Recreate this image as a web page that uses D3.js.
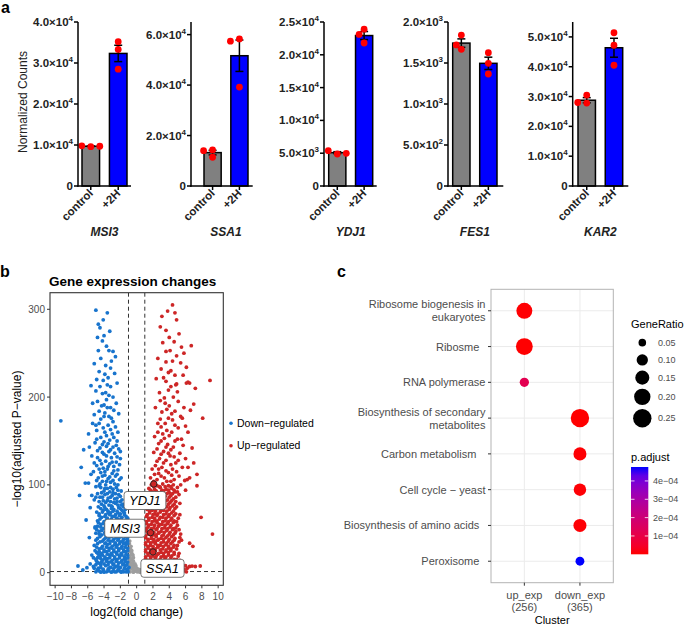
<!DOCTYPE html>
<html><head><meta charset="utf-8">
<script src="https://cdn.jsdelivr.net/npm/d3@7"></script>
<style>
body{margin:0;background:#fff;}
svg{font-family:"Liberation Sans",Arial,Helvetica,sans-serif;}
</style></head><body>
<svg id="c" width="685" height="626"></svg>
<script>
// ================= DATA =================
// Panel a
const genes = ["MSI3","SSA1","YDJ1","FES1","KAR2"];
const conditions = ["control","+2H"];
const controlReps = [[9600,9800,9700],[14300,14000,11400],[4880,5380,4980],[1841,1667,1720],[30500,27800,28000]];
const h2Reps = [[35200,33300,28500],[58300,57400,39200],[23900,23100,21800],[1626,1496,1366],[51400,47200,40500]];
const yMaxA = [40000,65000,25000,2000,55000];
const yTicksA = [[0,1e4,2e4,3e4,4e4],[0,2e4,4e4,6e4],[0,5e3,1e4,1.5e4,2e4,2.5e4],[0,500,1000,1500,2000],[0,1e4,2e4,3e4,4e4,5e4]];

// Panel b (log2 fold change, -log10 adjusted p)
const downPts = parsePts(`-5.0,299 -4.7,283 -4.5,279 -4.0,270 -4.2,264 -4.7,253 -3.4,253 -2.9,252 -3.2,233 -3.9,226 -5.6,213 -3.2,212 -4.5,212 -4.1,219 -3.8,205 -3.4,202 -4.8,195 -4.3,190 -3.6,188 -2.8,185 -5.2,180 -4.0,178 -3.1,176 -9.3,173 -4.6,170 -3.5,168 -2.6,166 -4.9,162 -3.9,160 -3.0,158 -5.9,158 -5.4,170 -4.4,154 -3.3,151 -2.4,150
-5.1,148 -4.2,146 -3.7,144 -2.9,143 -2.2,141 -4.8,139 -3.4,138 -2.7,136 -4.0,135 -5.5,133 -3.1,131 -2.0,130 -4.5,128 -3.8,127 -2.5,126 -3.3,124 -4.9,122 -2.8,121 -4.1,119 -3.6,118 -2.3,117 -5.3,115 -4.4,114 -3.0,113 -3.9,111 -2.6,110 -4.7,108 -3.5,107 -2.1,106 -6.3,102 -5.9,102 -4.2,104 -3.2,103 -2.7,101 -3.8,100
-3.6,296 -4.1,288 -3.3,275 -4.8,268 -3.7,258 -2.6,246 -4.4,244 -3.1,241 -5.2,238 -3.8,236 -4.6,229 -2.7,227 -3.5,222 -4.9,220 -2.4,216 -3.6,214 -5.0,207 -4.2,204 -2.9,200 -3.7,197 -5.4,193 -2.5,193 -4.0,191 -3.2,188 -4.6,184 -2.2,181 -3.9,182 -3.4,178 -4.4,175 -2.9,172 -5.0,168 -4.1,165 -3.2,163 -2.3,160 -3.7,156 -4.9,152 -2.8,154 -4.0,149 -3.5,147 -2.5,145 -5.8,143 -4.5,142 -3.2,140 -2.0,138 -4.2,137 -3.7,133 -2.4,132 -4.8,131 -5.2,125 -3.0,126 -4.3,124 -2.1,123 -3.5,121 -4.6,118 -2.8,116 -3.9,115 -5.6,112 -2.4,112 -4.2,110 -3.3,109 -4.9,105 -1.9,108 -3.7,104 -2.9,105 -4.5,101 -2.3,100 -6.8,120 -6.5,140 -7.0,88
-5.0,98 -4.4,97 -3.6,96 -2.9,95 -2.3,94 -4.0,93 -3.3,92 -4.8,90 -2.6,90 -3.9,89 -3.0,88 -2.0,87 -4.5,86 -3.5,85 -2.7,84 -5.2,83 -4.1,82 -3.2,81 -2.4,81 -3.8,80
-4.6,99 -3.9,96 -3.2,97 -2.5,97 -1.9,93 -4.3,91 -3.6,90 -2.9,91 -2.2,89 -5.0,86 -4.2,86 -3.2,86 -2.4,85 -1.8,83 -4.6,81 -3.6,82 -2.8,80 -2.0,81
-4.3,78 -3.4,77 -2.6,79 -1.9,77 -4.7,75 -3.9,74 -3.0,75 -2.2,74 -1.6,75 -4.1,71 -3.5,70 -2.8,72 -2.4,70 -1.8,71
-4.6,67 -3.8,66 -3.2,68 -2.6,66 -2.0,67 -1.5,68 -4.3,63 -3.6,62 -3.0,64 -2.4,62 -1.8,63 -1.3,64
-4.8,59 -4.0,58 -3.4,59 -2.8,58 -2.2,60 -1.6,58 -1.2,59 -4.4,55 -3.7,54 -3.1,56 -2.5,54 -1.9,55 -1.4,56 -1.1,54
-5.1,51 -4.1,50 -3.5,52 -2.9,50 -2.3,51 -1.7,50 -1.2,52 -4.6,47 -3.9,46 -3.3,48 -2.7,46 -2.1,47 -1.5,46 -1.1,48
-4.3,43 -3.6,42 -3.0,44 -2.4,42 -1.8,43 -1.3,42 -4.8,39 -4.0,38 -3.4,40 -2.8,38 -2.2,39 -1.6,38 -1.1,40
-4.5,35 -3.8,34 -3.2,36 -2.6,34 -2.0,35 -1.4,34 -1.1,36 -5.2,31 -4.2,30 -3.6,32 -3.0,30 -2.4,31 -1.8,30 -1.3,32
-4.6,27 -4.0,26 -3.4,28 -2.8,26 -2.2,27 -1.6,26 -1.1,28 -4.9,23 -4.3,22 -3.7,24 -3.1,22 -2.5,23 -1.9,22 -1.3,24
-4.5,19 -3.9,18 -3.3,20 -2.7,18 -2.1,19 -1.5,18 -1.1,20 -5.0,15 -4.2,14 -3.6,16 -3.0,14 -2.4,15 -1.8,14 -1.3,16
-4.7,11 -4.0,10 -3.4,12 -2.8,10 -2.2,11 -1.6,10 -1.1,12 -5.3,7 -4.4,6 -3.8,8 -3.2,6 -2.6,7 -2.0,6 -1.4,8
-4.8,3 -4.1,2 -3.5,4 -2.9,2 -2.3,3 -1.7,2 -1.2,4 -4.4,0.5 -3.7,1 -3.1,0.5 -2.5,1 -1.9,0.5 -1.3,1
-4.0,76 -3.1,76 -2.3,77 -1.7,78 -4.4,73 -3.7,72 -3.1,73 -2.0,73 -1.4,72
-4.9,69 -4.2,69 -3.5,68 -2.9,70 -2.3,68 -1.6,69 -4.6,65 -3.9,64 -3.3,66 -2.7,64 -2.1,65 -1.5,66 -1.1,62
-4.5,61 -3.7,60 -3.1,61 -2.5,60 -1.9,61 -1.3,60 -4.7,57 -4.1,56 -3.4,57 -2.8,56 -2.2,57 -1.6,56 -1.2,57
-4.8,53 -4.4,52 -3.8,53 -3.2,53 -2.6,52 -2.0,53 -1.4,53 -1.1,51 -4.9,49 -4.3,48 -3.6,49 -3.0,48 -2.4,49 -1.8,48 -1.3,49
-5.0,45 -4.6,44 -3.9,44 -3.3,45 -2.7,44 -2.1,45 -1.6,44 -1.1,45 -4.5,41 -3.8,40 -3.1,41 -2.5,40 -1.9,41 -1.4,41
-5.0,37 -4.2,36 -3.5,37 -2.9,36 -2.3,37 -1.7,36 -1.2,38 -4.8,33 -3.9,33 -3.3,33 -2.7,32 -2.1,33 -1.6,33 -1.1,33
-4.9,29 -4.3,28 -3.7,29 -3.1,28 -2.5,29 -1.9,28 -1.4,29 -5.1,25 -4.6,24 -4.0,24 -3.4,25 -2.8,24 -2.2,25 -1.6,24 -1.1,25
-4.7,21 -4.2,20 -3.6,21 -3.0,20 -2.4,21 -1.8,20 -1.3,21 -5.3,17 -4.8,17 -4.4,16 -3.9,16 -3.3,17 -2.7,16 -2.1,17 -1.5,16 -1.1,17
-4.9,13 -4.3,12 -3.7,13 -3.1,12 -2.5,13 -1.9,12 -1.4,13 -5.0,9 -4.4,9 -3.5,9 -2.9,9 -2.3,8 -1.7,9 -1.2,9 -0.95,6
-5.2,5 -4.7,5 -4.1,4 -3.4,5 -2.8,5 -2.2,5 -1.5,5 -1.1,3 -5.0,1 -4.6,2 -4.0,0.5 -3.4,2 -2.7,1 -2.1,2 -1.6,1 -1.05,1
-7.2,7.6 -6.1,5.7 -6.6,3 -5.7,10 -5.5,20 -5.8,40 -5.7,74 -5.1,52 -6.2,60 -5.5,88`);
const upPts = parsePts(`4.4,305 3.1,292 4.9,288 4.6,263 5.5,257 6.7,258.5 5.8,250 4.1,253 6.1,234 5.7,225 9.0,219 6.3,217 6.5,216 7.2,210 4.8,214 5.1,195 7.0,192 6.0,167 4.9,215 6.1,216 3.6,240 4.2,230 3.3,222 3.9,208 4.5,200 3.4,199 2.8,205 3.7,186 4.3,181 5.4,178 2.9,175 3.5,170 4.7,168 2.6,160 3.2,158 4.0,156 5.0,152 3.0,150 3.8,146 4.5,143 2.5,141 3.3,138 5.3,136 4.1,133 2.8,130 3.6,128 4.8,125 2.3,122 3.1,120 4.4,118 6.3,120 7.4,112 7.4,99 5.9,105 6.0,94 7.9,63 9.3,44 6.5,33.5 6.9,30 5.5,37 6.5,7 7.8,7.6 7.2,7 6.2,106 5.2,110 3.9,114 2.7,113 3.4,108 4.6,106 2.1,104
3.8,298 4.7,296 2.9,280 3.6,276 5.2,272 4.0,268 3.2,262 4.9,247 3.6,252 2.6,244 4.4,241 5.4,239 3.0,232 3.9,228 4.7,225 2.4,221 3.6,218 5.0,206 4.2,212 2.9,196 3.5,193 4.0,190 5.8,188 2.3,188 3.1,183 4.7,184 3.9,176 2.6,170 4.4,174 5.1,165 3.0,166 3.7,162 4.3,160 2.2,155 3.4,153 4.7,150 2.7,147 3.6,143 4.2,140 5.7,145 2.1,137 3.0,135 3.9,136 4.6,132 5.1,128 2.5,127 3.3,125 4.2,123 1.9,118 2.7,118 3.6,116 4.9,115 5.6,120 2.2,112 3.0,110 4.3,111 1.7,108 2.5,106 3.7,104 4.2,104 5.4,100 6.5,108 7.0,125 6.8,142 6.0,130 5.5,152 6.3,160 5.6,176 6.6,185 8.1,176
1.8,100 2.5,99 3.2,101 3.9,99 4.5,100 1.5,96 2.2,95 2.9,97 3.6,95 4.3,96 5.0,97 1.9,92 2.6,91 3.3,93 4.0,91 4.7,92
1.4,88 2.1,87 2.8,89 3.5,87 4.2,88 5.2,89 1.7,84 2.4,83 3.1,85 3.8,83 4.5,84 1.3,80 2.0,79 2.7,81 3.4,79 4.1,80 4.8,81
1.6,76 2.3,75 3.0,77 3.7,75 4.4,76 1.3,72 1.9,71 2.6,73 3.3,71 4.0,72 4.7,73 1.6,68 2.2,67 2.9,69 3.6,67 4.3,68 5.3,66
1.2,64 1.9,63 2.5,65 3.2,63 3.9,64 4.6,65 1.5,60 2.2,59 2.8,61 3.5,59 4.2,60 4.9,58 1.2,56 1.8,55 2.5,57 3.1,55 3.8,56 4.5,57
1.4,52 2.1,51 2.7,53 3.4,51 4.1,52 4.8,51 1.1,48 1.8,47 2.4,49 3.0,47 3.7,48 4.4,49 1.4,44 2.1,43 2.7,45 3.3,43 4.0,44 4.7,45 5.4,44
1.1,40 1.8,39 2.4,41 3.0,39 3.6,40 4.3,41 1.4,36 2.0,35 2.6,37 3.3,35 3.9,36 4.6,37 1.1,32 1.7,31 2.3,33 2.9,31 3.6,32 4.2,33 5.0,31
1.4,28 2.0,27 2.6,29 3.2,27 3.9,28 4.5,29 1.1,24 1.7,23 2.3,25 3.0,23 3.6,24 4.2,25 5.2,22 1.4,20 2.0,19 2.6,21 3.3,19 3.9,20 4.6,21
1.1,16 1.7,15 2.3,17 2.9,15 3.5,16 4.2,17 4.9,15 1.4,12 2.0,11 2.6,13 3.2,11 3.8,12 4.5,13 5.5,10
1.1,8 1.7,7 2.3,9 2.9,7 3.5,8 4.2,9 4.9,7 6.0,8 1.4,4 2.0,3 2.6,5 3.2,3 3.8,4 4.5,5 5.2,3 5.8,4 6.8,7.5
1.1,1 1.7,0.5 2.3,1 2.9,0.5 3.5,1 4.1,0.5 4.7,1 5.4,0.5 6.1,1
2.1,98 2.8,98 3.5,98 4.2,98 1.7,94 2.4,93 3.1,94 3.9,94 4.6,94
1.6,90 2.3,90 3.0,91 3.7,90 4.4,90 5.0,92 1.9,86 2.6,86 3.3,86 4.0,86 4.8,86
1.5,82 2.2,82 2.9,83 3.6,82 4.3,82 1.8,78 2.5,78 3.2,78 3.9,78 4.6,78 5.3,79
1.3,74 2.0,74 2.7,75 3.4,74 4.1,74 4.9,75 1.6,70 2.3,70 3.0,71 3.7,70 4.5,70
1.3,66 2.0,66 2.6,67 3.3,66 4.0,66 4.8,67 1.5,62 2.2,62 2.9,63 3.6,62 4.3,62 5.1,62
1.2,58 1.9,58 2.5,59 3.2,58 3.9,58 4.6,59 1.5,54 2.2,54 2.8,55 3.5,54 4.2,54 5.0,54
1.2,50 1.8,50 2.5,50 3.1,50 3.8,50 4.5,50 5.2,49 1.4,46 2.1,46 2.7,46 3.4,46 4.1,46 4.8,47
1.1,42 1.8,42 2.4,43 3.1,42 3.8,42 4.5,43 1.4,38 2.1,38 2.7,38 3.3,38 4.0,38 4.7,39 5.3,40
1.1,34 1.7,34 2.3,35 3.0,34 3.7,34 4.4,35 5.2,35 1.4,30 2.0,30 2.6,31 3.3,30 3.9,30 4.6,31
1.1,26 1.7,26 2.3,27 2.9,26 3.6,26 4.2,27 4.9,27 1.4,22 2.0,22 2.7,22 3.3,22 3.9,23 4.6,23
1.1,18 1.7,18 2.4,19 3.0,18 3.6,18 4.3,19 5.1,19 1.4,14 2.0,14 2.6,14 3.3,14 3.9,14 4.6,15 5.3,14
1.1,10 1.7,10 2.3,10 2.9,10 3.5,10 4.2,11 4.9,11 1.4,6 2.0,6 2.6,6 3.2,6 3.8,6 4.5,7 5.3,6 6.2,5
1.2,2 1.8,2 2.4,2.5 3.0,2 3.6,2 4.3,2 5.0,2 5.8,2`);
const nsPts = parsePts(`-0.9,33 -0.8,28 -0.9,24 -0.7,20 -0.9,18 -0.6,15 -0.8,12 -0.5,10 -0.9,9 -0.3,7 -0.7,6 0.0,5 -0.5,4 0.3,3 -0.2,2 0.6,2 -0.8,1 0.1,1 0.8,1 -0.4,0.5 0.4,0.5 -0.9,4 -0.6,25 -0.4,13 0.2,4 0.5,1 0.9,0.5 -0.1,8 -0.7,30
-0.85,36 -0.6,22 -0.75,16 -0.4,17 -0.55,7 -0.2,10 -0.3,4 0.1,3 0.35,1.5 0.7,0.8 -0.65,10 -0.85,14 -0.45,20 -0.7,26 -0.15,5 0.0,1.5 0.55,3.5 0.85,2.5`);
const labelGenes = ["YDJ1","MSI3","SSA1"];
const labelFC = [2.1,1.7,2.0];
const labelP = [101,45.6,23.6];
const labelBoxFC = [1.02,-1.44,3.17];
const labelBoxP = [82.2,50.6,5.0];
const fcCut = 1, pCut = 1.3;
const volXTicks = [-10,-8,-6,-4,-2,0,2,4,6,8,10];
const volYTicks = [0,100,200,300];
const volLegend = ["Down−regulated","Up−regulated"];

// Panel c
const pathways = ["Ribosome biogenesis in\neukaryotes","Ribosme  ","RNA polymerase","Biosynthesis of secondary\nmetabolites","Carbon metabolism   ","Cell cycle − yeast","Biosynthesis of amino acids  ","Peroxisome  "];
const clusters = ["up_exp","down_exp"];
const clusterN = ["(256)","(365)"];
const dotCluster = ["up_exp","up_exp","up_exp","down_exp","down_exp","down_exp","down_exp","down_exp"];
const geneRatio = [0.19,0.21,0.07,0.25,0.13,0.12,0.13,0.065];
const pAdjust = [2e-6,1e-6,1.2e-4,5e-8,3e-6,5e-6,4e-6,4.76e-4];
const sizeBreaks = [0.05,0.10,0.15,0.20,0.25];
const colorBreaks = [1e-4,2e-4,3e-4,4e-4];
const colorBreakLabels = ["1e−04","2e−04","3e−04","4e−04"];

function parsePts(s){ return s.trim().split(/\s+/).map(p=>p.split(",").map(Number)); }

// ================= DRAW =================
const svg = d3.select("#c");

// ---------- Panel a ----------
svg.append("text").attr("x",1).attr("y",13).attr("font-size",16).attr("font-weight","bold").text("a");
const axisX = [78,191,324,448,572.7];
const bandRange = [[82,127],[204,248],[328.7,372.7],[452.7,497],[578,622.7]];
const axisEnd = [131,252.7,376.7,503.3,628.3];
const Y0 = 186, YT = 22;

genes.forEach((g,i)=>{
  const G = svg.append("g");
  const x = d3.scaleBand().domain(conditions).range(bandRange[i]).paddingInner(0.36).paddingOuter(0);
  const y = d3.scaleLinear().domain([0,yMaxA[i]]).range([Y0,YT]);
  const reps = [controlReps[i], h2Reps[i]];
  reps.forEach((r,j)=>{
    const c = conditions[j];
    const m = d3.mean(r), sem = d3.deviation(r)/Math.sqrt(r.length);
    const cx = x(c)+x.bandwidth()/2;
    G.append("rect").attr("x",x(c)).attr("y",y(m)).attr("width",x.bandwidth()).attr("height",Y0-y(m))
      .attr("fill", j? "#0000ff":"#808080").attr("stroke","#000").attr("stroke-width",1.5);
    G.append("line").attr("x1",cx).attr("x2",cx).attr("y1",y(m-sem)).attr("y2",y(m+sem)).attr("stroke","#000").attr("stroke-width",1.5);
    [m-sem,m+sem].forEach(v=>G.append("line").attr("x1",cx-4).attr("x2",cx+4).attr("y1",y(v)).attr("y2",y(v)).attr("stroke","#000").attr("stroke-width",1.5));
    const placed=[];
    r.forEach(v=>{
      const py=y(v); let px=cx;
      const offs=[0,-5,5,-9,9];
      for(const o of offs){ if(placed.every(p=>Math.hypot(p[0]-(cx+o),p[1]-py)>6.5)){px=cx+o;break;} }
      placed.push([px,py]);
      G.append("circle").attr("cx",px).attr("cy",py).attr("r",3.4).attr("fill","#ff0000");
    });
  });
  G.append("line").attr("x1",axisX[i]).attr("x2",axisX[i]).attr("y1",Y0+0.75).attr("y2",YT).attr("stroke","#000").attr("stroke-width",1.5);
  G.append("line").attr("x1",axisX[i]-0.75).attr("x2",axisEnd[i]).attr("y1",Y0).attr("y2",Y0).attr("stroke","#000").attr("stroke-width",1.5);
  yTicksA[i].forEach(v=>{
    G.append("line").attr("x1",axisX[i]-4).attr("x2",axisX[i]).attr("y1",y(v)).attr("y2",y(v)).attr("stroke","#000").attr("stroke-width",1.5);
    const t = G.append("text").attr("x",axisX[i]-5).attr("y",y(v)+4).attr("text-anchor","end")
      .attr("font-size",11.5).attr("font-weight","bold").attr("fill","#222");
    if(v===0){ t.text("0"); }
    else {
      const e=Math.floor(Math.log10(v)+1e-9), mm=v/Math.pow(10,e);
      t.append("tspan").text(mm.toFixed(1)+"×10");
      t.append("tspan").attr("dy",-5).attr("font-size",8).text(String(e));
    }
  });
  conditions.forEach(c=>{
    const cx = x(c)+x.bandwidth()/2;
    G.append("line").attr("x1",cx).attr("x2",cx).attr("y1",Y0).attr("y2",Y0+4).attr("stroke","#000").attr("stroke-width",1.5);
    G.append("text").attr("transform",`translate(${cx+3},${Y0+8}) rotate(-45)`).attr("text-anchor","end")
      .attr("font-size",11.5).attr("font-weight","bold").attr("fill","#222").text(c);
  });
  G.append("text").attr("x",(bandRange[i][0]+bandRange[i][1])/2).attr("y",236).attr("text-anchor","middle")
    .attr("font-size",12).attr("font-weight","bold").attr("font-style","italic").attr("fill","#222").text(g);
});
svg.append("text").attr("transform","translate(26.5,102) rotate(-90)").attr("text-anchor","middle")
  .attr("font-size",12).attr("fill","#222").text("Normalized Counts");

// ---------- Panel b ----------
svg.append("text").attr("x",0).attr("y",277).attr("font-size",16).attr("font-weight","bold").text("b");
svg.append("text").attr("x",49).attr("y",286).attr("font-size",13.5).attr("font-weight","bold").text("Gene expression changes");
const PL=50, PR=223.3, PT=292.7, PB=585.3;
const vx = d3.scaleLinear().domain([-10.63,10.63]).range([PL,PR]);
const vy = d3.scaleLinear().domain([-14.4,318.9]).range([PB,PT]);
svg.append("clipPath").attr("id","vclip").append("rect").attr("x",PL).attr("y",PT).attr("width",PR-PL).attr("height",PB-PT);
const V = svg.append("g").attr("clip-path","url(#vclip)");
const dash = "4,3";
[-fcCut,fcCut].forEach(v=>V.append("line").attr("x1",vx(v)).attr("x2",vx(v)).attr("y1",PT).attr("y2",PB).attr("stroke","#333").attr("stroke-width",1).attr("stroke-dasharray",dash));
V.append("line").attr("x1",PL).attr("x2",PR).attr("y1",vy(pCut)).attr("y2",vy(pCut)).attr("stroke","#333").attr("stroke-width",1).attr("stroke-dasharray",dash);
const PR_ = 1.9;
V.selectAll(".ns").data(nsPts).join("circle").attr("cx",d=>vx(d[0])).attr("cy",d=>vy(d[1])).attr("r",PR_).attr("fill","#9e9e9e");
V.selectAll(".dn").data(downPts).join("circle").attr("cx",d=>vx(d[0])).attr("cy",d=>vy(d[1])).attr("r",PR_).attr("fill","#1874CD");
V.selectAll(".up").data(upPts).join("circle").attr("cx",d=>vx(d[0])).attr("cy",d=>vy(d[1])).attr("r",PR_).attr("fill","#CD2626");
labelGenes.forEach((g,i)=>{
  V.append("circle").attr("cx",vx(labelFC[i])).attr("cy",vy(labelP[i])).attr("r",3.2).attr("fill","#CD2626").attr("stroke","#222").attr("stroke-width",0.9);
});
labelGenes.forEach((g,i)=>{
  const cx=vx(labelBoxFC[i]), cy=vy(labelBoxP[i]);
  const L = svg.append("g");
  const t = L.append("text").attr("x",cx).attr("y",cy+4.6).attr("text-anchor","middle").attr("font-size",13).attr("font-style","italic").text(g);
  const w = t.node().getComputedTextLength()+10;
  L.insert("rect","text").attr("x",cx-w/2).attr("y",cy-9).attr("width",w).attr("height",18).attr("rx",3)
    .attr("fill","#fff").attr("stroke","#555").attr("stroke-width",0.8);
});
svg.append("rect").attr("x",PL).attr("y",PT).attr("width",PR-PL).attr("height",PB-PT).attr("fill","none").attr("stroke","#333").attr("stroke-width",1.1);
volXTicks.forEach(v=>{
  svg.append("line").attr("x1",vx(v)).attr("x2",vx(v)).attr("y1",PB).attr("y2",PB+3).attr("stroke","#333");
  svg.append("text").attr("x",vx(v)).attr("y",PB+15).attr("text-anchor","middle").attr("font-size",10).attr("fill","#4d4d4d").text(String(v).replace("-","−"));
});
volYTicks.forEach(v=>{
  svg.append("line").attr("x1",PL-3).attr("x2",PL).attr("y1",vy(v)).attr("y2",vy(v)).attr("stroke","#333");
  svg.append("text").attr("x",PL-5).attr("y",vy(v)+3.5).attr("text-anchor","end").attr("font-size",10).attr("fill","#4d4d4d").text(v);
});
svg.append("text").attr("x",(PL+PR)/2).attr("y",616).attr("text-anchor","middle").attr("font-size",12).text("log2(fold change)");
svg.append("text").attr("transform",`translate(20.5,${(PT+PB)/2}) rotate(-90)`).attr("text-anchor","middle").attr("font-size",12).text("−log10(adjusted P−value)");
const legCol = ["#1874CD","#CD2626"];
volLegend.forEach((l,i)=>{
  svg.append("circle").attr("cx",231).attr("cy",423.3+i*22.4).attr("r",1.8).attr("fill",legCol[i]);
  svg.append("text").attr("x",237).attr("y",427+i*22.4).attr("font-size",10.5).text(l);
});

// ---------- Panel c ----------
svg.append("text").attr("x",337).attr("y",277).attr("font-size",16).attr("font-weight","bold").text("c");
const CL=491, CR=613.3, CT=289.3, CB=582.7;
const cy = d3.scalePoint().domain(pathways).range([CT,CB]).padding(0.6);
const cx = d3.scalePoint().domain(clusters).range([CL,CR]).padding(0.6);
const rScale = d3.scaleLinear().domain([0.05,0.25]).range([14.4,84.6]);
const rad = v=>Math.sqrt(Math.max(1,rScale(v)));
const pExt = d3.extent(pAdjust);
const col = d3.scaleLinear().domain(pExt).range(["red","blue"]).interpolate(d3.interpolateLab);
svg.append("rect").attr("x",CL).attr("y",CT).attr("width",CR-CL).attr("height",CB-CT).attr("fill","#fff");
pathways.forEach(p=>svg.append("line").attr("x1",CL).attr("x2",CR).attr("y1",cy(p)).attr("y2",cy(p)).attr("stroke","#ebebeb").attr("stroke-width",1));
clusters.forEach(c=>svg.append("line").attr("x1",cx(c)).attr("x2",cx(c)).attr("y1",CT).attr("y2",CB).attr("stroke","#ebebeb").attr("stroke-width",1));
pathways.forEach((p,i)=>{
  svg.append("circle").attr("cx",cx(dotCluster[i])).attr("cy",cy(p)).attr("r",rad(geneRatio[i])).attr("fill",col(pAdjust[i]));
});
svg.append("rect").attr("x",CL).attr("y",CT).attr("width",CR-CL).attr("height",CB-CT).attr("fill","none").attr("stroke","#b3b3b3").attr("stroke-width",1);
pathways.forEach(p=>{
  svg.append("line").attr("x1",CL-3).attr("x2",CL).attr("y1",cy(p)).attr("y2",cy(p)).attr("stroke","#333");
  const lines = p.split("\n");
  const t = svg.append("text").attr("text-anchor","end").attr("font-size",11).attr("fill","#4d4d4d").style("white-space","pre");
  lines.forEach((ln,k)=>t.append("tspan").attr("x",485.5).attr("y",cy(p)+4-(lines.length-1)*6.6+k*13.3).text(ln));
});
clusters.forEach((c,i)=>{
  svg.append("line").attr("x1",cx(c)).attr("x2",cx(c)).attr("y1",CB).attr("y2",CB+3).attr("stroke","#333");
  svg.append("text").attr("x",cx(c)).attr("y",599).attr("text-anchor","middle").attr("font-size",11).attr("fill","#4d4d4d").text(c);
  svg.append("text").attr("x",cx(c)).attr("y",611).attr("text-anchor","middle").attr("font-size",11).attr("fill","#4d4d4d").text(clusterN[i]);
});
svg.append("text").attr("x",(CL+CR)/2).attr("y",624).attr("text-anchor","middle").attr("font-size",11).text("Cluster");

svg.append("text").attr("x",631).attr("y",328).attr("font-size",11).text("GeneRatio");
let ky = 334;
sizeBreaks.forEach(b=>{
  const r = rad(b); const h = Math.max(17.3, 2*r+4);
  const c = ky + h/2;
  svg.append("circle").attr("cx",642.3).attr("cy",c).attr("r",r).attr("fill","#000");
  svg.append("text").attr("x",658).attr("y",c+3.2).attr("font-size",9).attr("fill","#4d4d4d").text(b.toFixed(2));
  ky += h;
});
svg.append("text").attr("x",631).attr("y",461).attr("font-size",11).text("p.adjust");
const cbY = d3.scaleLinear().domain(pExt).range([554.3,467]);
const grad = svg.append("defs").append("linearGradient").attr("id","pg").attr("x1",0).attr("x2",0).attr("y1",1).attr("y2",0);
d3.range(0,1.0001,0.1).forEach(t=>grad.append("stop").attr("offset",t).attr("stop-color",col(pExt[0]+t*(pExt[1]-pExt[0]))));
svg.append("rect").attr("x",631).attr("y",cbY(pExt[1])).attr("width",17.3).attr("height",cbY(pExt[0])-cbY(pExt[1])).attr("fill","url(#pg)");
colorBreaks.forEach((b,i)=>{
  const y=cbY(b);
  svg.append("line").attr("x1",631).attr("x2",634.5).attr("y1",y).attr("y2",y).attr("stroke","#fff").attr("stroke-width",0.8);
  svg.append("line").attr("x1",644.8).attr("x2",648.3).attr("y1",y).attr("y2",y).attr("stroke","#fff").attr("stroke-width",0.8);
  svg.append("text").attr("x",653).attr("y",y+3.2).attr("font-size",9).attr("fill","#4d4d4d").text(colorBreakLabels[i]);
});
</script>
</body></html>
